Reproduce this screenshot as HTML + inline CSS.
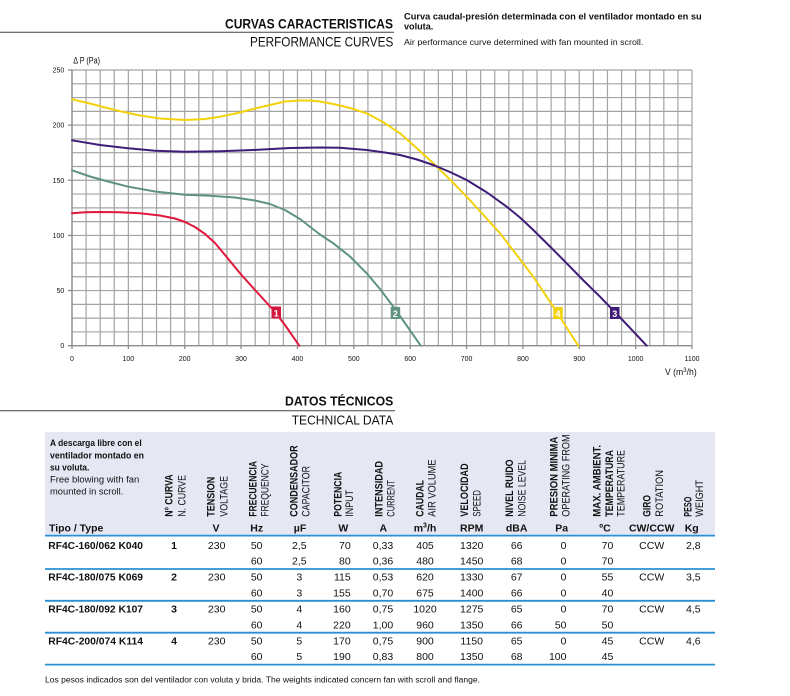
<!DOCTYPE html>
<html><head><meta charset="utf-8"><style>
html,body{margin:0;padding:0;background:#fff;}
svg{display:block;}
text{font-family:"Liberation Sans",Arial,sans-serif;fill:#111;}
.b{font-weight:bold;}
.tk{font-size:7px;fill:#333;}
.rh{font-size:11px;}
.d{font-size:10.5px;}
</style></head><body>
<svg width="790" height="696" viewBox="0 0 790 696" xmlns="http://www.w3.org/2000/svg">
<rect width="790" height="696" fill="#fff"/>
<!-- Header -->
<text x="225" y="28.3" class="b" font-size="14" textLength="168" lengthAdjust="spacingAndGlyphs">CURVAS CARACTERISTICAS</text>
<line x1="0" y1="32.3" x2="394" y2="32.3" stroke="#444" stroke-width="1"/>
<text x="250" y="46.7" font-size="14" textLength="143.3" lengthAdjust="spacingAndGlyphs">PERFORMANCE CURVES</text>
<text x="404" y="19.3" class="b" font-size="9" textLength="297.7" lengthAdjust="spacingAndGlyphs">Curva caudal-presión determinada con el ventilador montado en su</text>
<text x="404" y="29.5" class="b" font-size="9" textLength="29.3" lengthAdjust="spacingAndGlyphs">voluta.</text>
<text x="404" y="45" font-size="8.5" textLength="239.3" lengthAdjust="spacingAndGlyphs">Air performance curve determined with fan mounted in scroll.</text>

<!-- Chart grid -->
<path fill="none" stroke="#a3a3a3" stroke-width="1.2" d="
M72 70V345.7M86.09 70V345.7M100.18 70V345.7M114.27 70V345.7M128.36 70V345.7M142.45 70V345.7M156.55 70V345.7M170.64 70V345.7M184.73 70V345.7M198.82 70V345.7M212.91 70V345.7M227 70V345.7M241.09 70V345.7M255.18 70V345.7M269.27 70V345.7M283.36 70V345.7M297.45 70V345.7M311.55 70V345.7M325.64 70V345.7M339.73 70V345.7M353.82 70V345.7M367.91 70V345.7M382 70V345.7M396.09 70V345.7M410.18 70V345.7M424.27 70V345.7M438.36 70V345.7M452.45 70V345.7M466.55 70V345.7M480.64 70V345.7M494.73 70V345.7M508.82 70V345.7M522.91 70V345.7M537 70V345.7M551.09 70V345.7M565.18 70V345.7M579.27 70V345.7M593.36 70V345.7M607.45 70V345.7M621.55 70V345.7M635.64 70V345.7M649.73 70V345.7M663.82 70V345.7M677.91 70V345.7M692 70V345.7
M72 331.92H692M72 318.13H692M72 304.35H692M72 290.56H692M72 276.78H692M72 262.99H692M72 249.21H692M72 235.42H692M72 221.64H692M72 207.85H692M72 194.07H692M72 180.28H692M72 166.5H692M72 152.71H692M72 138.93H692M72 125.14H692M72 111.36H692M72 97.57H692M72 83.79H692M72 70H692"/>
<path fill="none" stroke="#8a8a8a" stroke-width="1.3" d="M72 70V345.7H692M68 70H72M68 125.14H72M68 180.28H72M68 235.42H72M68 290.56H72M68 345.7H72M72 345.7V349M128.36 345.7V349M184.73 345.7V349M241.09 345.7V349M297.45 345.7V349M353.82 345.7V349M410.18 345.7V349M466.55 345.7V349M522.91 345.7V349M579.27 345.7V349M635.64 345.7V349M692 345.7V349"/>
<!-- y tick labels -->
<g class="tk" text-anchor="end">
<text x="64.3" y="72.5">250</text>
<text x="64.3" y="127.6">200</text>
<text x="64.3" y="182.8">150</text>
<text x="64.3" y="237.9">100</text>
<text x="64.3" y="293">50</text>
<text x="64.3" y="348.2">0</text>
</g>
<g class="tk" text-anchor="middle">
<text x="72" y="361">0</text>
<text x="128.36" y="361">100</text>
<text x="184.73" y="361">200</text>
<text x="241.09" y="361">300</text>
<text x="297.45" y="361">400</text>
<text x="353.82" y="361">500</text>
<text x="410.18" y="361">600</text>
<text x="466.55" y="361">700</text>
<text x="522.91" y="361">800</text>
<text x="579.27" y="361">900</text>
<text x="635.64" y="361">1000</text>
<text x="692" y="361">1100</text>
</g>
<text x="73.3" y="63.5" font-size="9" textLength="26.7" lengthAdjust="spacingAndGlyphs">Δ P (Pa)</text>
<text x="665" y="375" font-size="9" textLength="31.7" lengthAdjust="spacingAndGlyphs">V (m<tspan font-size="6.5" dy="-3">3</tspan><tspan dy="3">/h)</tspan></text>

<!-- Curves -->
<g fill="none" stroke-width="2" stroke-linejoin="round" stroke-linecap="round">
<polyline stroke="#f3d20c" points="72,99.3 90,103.5 105,107.5 120,111.2 140,115.5 160,118.5 185,120 205,119 220,116.7 240,112.5 255,108.5 270,105 285,101.5 300,100.5 310,100.5 320,101.5 333.3,104 350,108 366.7,113.3 383,122 400,133.3 416,147.5 433.3,163.3 450,179.5 466.7,196.7 483,214.5 500,233.3 516,254 533.3,276.7 553.3,306.7 565,325 578.3,345.7"/>
<polyline stroke="#3f1d78" points="72,140.3 100,145 128.3,148.3 155,150.8 185,151.7 220,151.2 253.3,150 290,148 320,147.5 340,147.8 366.7,150 385,152.5 400,155 417,159.5 433.3,165 450,172 466.7,180 487,192.5 506.7,206.7 520,217.5 533.3,230 550,246.5 566.7,263.3 583,280 600,296.7 623,320.5 646.7,345.7"/>
<polyline stroke="#5e9384" points="72,170.3 90,176.5 110,182 128.3,186.7 155,191.5 185,194.7 210,195.7 235,197.5 255,200.5 270,204 285,210 300,219 320,234.5 333.3,243.3 350,256.5 366.7,273.3 380,289 393.3,306.7 407,326 420.7,345.7"/>
<polyline stroke="#e1183c" points="72,213.3 85,212.3 100,212 120,212.3 140,213.3 160,215.5 175,218.5 185,222 195,227 205,234 215,243 225,255 240,273.3 255,290 273.3,310 285,325 299.3,345.7"/>
</g>
<!-- curve labels -->
<rect x="271.5" y="306.5" width="9.5" height="12" fill="#d3173c"/>
<text x="276.2" y="316.3" class="b" font-size="9" text-anchor="middle" style="fill:#fff">1</text>
<rect x="390.7" y="307" width="9.5" height="12" fill="#5e9384"/>
<text x="395.4" y="316.8" class="b" font-size="9" text-anchor="middle" style="fill:#fff">2</text>
<rect x="553.3" y="307" width="9.5" height="12" fill="#f3d20c"/>
<text x="558" y="316.8" class="b" font-size="9" text-anchor="middle" style="fill:#fff">4</text>
<rect x="610" y="307" width="9.5" height="12" fill="#3f1d78"/>
<text x="614.7" y="316.8" class="b" font-size="9" text-anchor="middle" style="fill:#fff">3</text>

<!-- Datos técnicos header -->
<text x="285" y="405.7" class="b" font-size="13" textLength="108.3" lengthAdjust="spacingAndGlyphs">DATOS TÉCNICOS</text>
<line x1="0" y1="410.7" x2="395" y2="410.7" stroke="#444" stroke-width="1"/>
<text x="291.7" y="424.7" font-size="13" textLength="101.6" lengthAdjust="spacingAndGlyphs">TECHNICAL DATA</text>

<!-- Table header -->
<rect x="45" y="432" width="670" height="103" fill="#e5e8f3"/>
<text x="50" y="445.8" class="b" font-size="9" textLength="91.7" lengthAdjust="spacingAndGlyphs">A descarga libre con el</text>
<text x="50" y="458.3" class="b" font-size="9" textLength="94" lengthAdjust="spacingAndGlyphs">ventilador montado en</text>
<text x="50" y="470.6" class="b" font-size="9" textLength="39.3" lengthAdjust="spacingAndGlyphs">su voluta.</text>
<text x="50" y="482.4" font-size="9" textLength="89.3" lengthAdjust="spacingAndGlyphs">Free blowing with fan</text>
<text x="50" y="494.4" font-size="9" textLength="73.3" lengthAdjust="spacingAndGlyphs">mounted in scroll.</text>

<g class="rh">
<text transform="translate(172.7,516.7) rotate(-90)" class="b" textLength="42.3" lengthAdjust="spacingAndGlyphs">Nº CURVA</text>
<text transform="translate(185.3,516.7) rotate(-90)" textLength="41.7" lengthAdjust="spacingAndGlyphs">N. CURVE</text>
<text transform="translate(214.7,516.7) rotate(-90)" class="b" textLength="40" lengthAdjust="spacingAndGlyphs">TENSION</text>
<text transform="translate(227.7,516.7) rotate(-90)" textLength="40.7" lengthAdjust="spacingAndGlyphs">VOLTAGE</text>
<text transform="translate(256.3,516.7) rotate(-90)" class="b" textLength="55.7" lengthAdjust="spacingAndGlyphs">FRECUENCIA</text>
<text transform="translate(268.3,516.7) rotate(-90)" textLength="53.3" lengthAdjust="spacingAndGlyphs">FREQUENCY</text>
<text transform="translate(297.3,516.7) rotate(-90)" class="b" textLength="71.3" lengthAdjust="spacingAndGlyphs">CONDENSADOR</text>
<text transform="translate(309.7,516.7) rotate(-90)" textLength="50.7" lengthAdjust="spacingAndGlyphs">CAPACITOR</text>
<text transform="translate(341.3,516.7) rotate(-90)" class="b" textLength="45" lengthAdjust="spacingAndGlyphs">POTENCIA</text>
<text transform="translate(353,516.7) rotate(-90)" textLength="26.7" lengthAdjust="spacingAndGlyphs">INPUT</text>
<text transform="translate(382.3,516.7) rotate(-90)" class="b" textLength="55.7" lengthAdjust="spacingAndGlyphs">INTENSIDAD</text>
<text transform="translate(394.7,516.7) rotate(-90)" textLength="36.7" lengthAdjust="spacingAndGlyphs">CURRENT</text>
<text transform="translate(423.3,516.7) rotate(-90)" class="b" textLength="36.7" lengthAdjust="spacingAndGlyphs">CAUDAL</text>
<text transform="translate(435.7,516.7) rotate(-90)" textLength="57.3" lengthAdjust="spacingAndGlyphs">AIR VOLUME</text>
<text transform="translate(468,516.7) rotate(-90)" class="b" textLength="53.3" lengthAdjust="spacingAndGlyphs">VELOCIDAD</text>
<text transform="translate(480.7,516.7) rotate(-90)" textLength="26.7" lengthAdjust="spacingAndGlyphs">SPEED</text>
<text transform="translate(513,516.7) rotate(-90)" class="b" textLength="57.3" lengthAdjust="spacingAndGlyphs">NIVEL RUIDO</text>
<text transform="translate(525.7,516.7) rotate(-90)" textLength="56.7" lengthAdjust="spacingAndGlyphs">NOISE  LEVEL</text>
<text transform="translate(557.3,516.7) rotate(-90)" class="b" textLength="80" lengthAdjust="spacingAndGlyphs">PRESION MINIMA</text>
<text transform="translate(569.7,516.7) rotate(-90)" textLength="82.3" lengthAdjust="spacingAndGlyphs">OPERATING FROM</text>
<text transform="translate(600.7,516.7) rotate(-90)" class="b" textLength="71.7" lengthAdjust="spacingAndGlyphs">MAX. AMBIENT.</text>
<text transform="translate(613,516.7) rotate(-90)" class="b" textLength="66.7" lengthAdjust="spacingAndGlyphs">TEMPERATURA</text>
<text transform="translate(624.7,516.7) rotate(-90)" textLength="66.7" lengthAdjust="spacingAndGlyphs">TEMPERATURE</text>
<text transform="translate(650.7,516.7) rotate(-90)" class="b" textLength="21.7" lengthAdjust="spacingAndGlyphs">GIRO</text>
<text transform="translate(663,516.7) rotate(-90)" textLength="46.7" lengthAdjust="spacingAndGlyphs">ROTATION</text>
<text transform="translate(691.3,516.7) rotate(-90)" class="b" textLength="20" lengthAdjust="spacingAndGlyphs">PESO</text>
<text transform="translate(703,516.7) rotate(-90)" textLength="36.7" lengthAdjust="spacingAndGlyphs">WEIGHT</text>
</g>

<g class="b" font-size="10.5" text-anchor="middle">
<text x="49" y="531.7" text-anchor="start" textLength="54.3" lengthAdjust="spacingAndGlyphs">Tipo / Type</text>
<text x="216" y="531.7">V</text>
<text x="256.7" y="531.7">Hz</text>
<text x="300" y="531.7">µF</text>
<text x="343.3" y="531.7">W</text>
<text x="383.3" y="531.7">A</text>
<text x="425" y="531.7">m<tspan font-size="7" dy="-4">3</tspan><tspan dy="4">/h</tspan></text>
<text x="471.7" y="531.7">RPM</text>
<text x="516.7" y="531.7">dBA</text>
<text x="561.7" y="531.7">Pa</text>
<text x="605" y="531.7">ºC</text>
<text x="651.7" y="531.7">CW/CCW</text>
<text x="691.7" y="531.7">Kg</text>
</g>

<!-- Table lines -->
<g stroke="#2b8fd6" stroke-width="1.8">
<line x1="45" y1="535.6" x2="715" y2="535.6"/>
<line x1="45" y1="569" x2="715" y2="569"/>
<line x1="45" y1="600.8" x2="715" y2="600.8"/>
<line x1="45" y1="632.7" x2="715" y2="632.7"/>
<line x1="45" y1="664.6" x2="715" y2="664.6"/>
</g>

<!-- Table rows -->
<g class="d" text-anchor="middle">
<!-- group 1 -->
<text x="48.3" y="548.8" class="b" text-anchor="start" textLength="94.7" lengthAdjust="spacingAndGlyphs">RF4C-160/062 K040</text>
<text x="174" y="548.8" class="b">1</text>
<text x="216.7" y="548.8">230</text>
<text x="256.7" y="548.8">50</text><text x="256.7" y="564.5">60</text>
<text x="299.3" y="548.8">2,5</text><text x="299.3" y="564.5">2,5</text>
<text x="350.7" y="548.8" text-anchor="end">70</text><text x="350.7" y="564.5" text-anchor="end">80</text>
<text x="383" y="548.8">0,33</text><text x="383" y="564.5">0,36</text>
<text x="425" y="548.8">405</text><text x="425" y="564.5">480</text>
<text x="471.7" y="548.8">1320</text><text x="471.7" y="564.5">1450</text>
<text x="516.7" y="548.8">66</text><text x="516.7" y="564.5">68</text>
<text x="566.5" y="548.8" text-anchor="end">0</text><text x="566.5" y="564.5" text-anchor="end">0</text>
<text x="613.3" y="548.8" text-anchor="end">70</text><text x="613.3" y="564.5" text-anchor="end">70</text>
<text x="651.7" y="548.8">CCW</text>
<text x="693.3" y="548.8">2,8</text>
<!-- group 2 -->
<text x="48.3" y="580.7" class="b" text-anchor="start" textLength="94.7" lengthAdjust="spacingAndGlyphs">RF4C-180/075 K069</text>
<text x="174" y="580.7" class="b">2</text>
<text x="216.7" y="580.7">230</text>
<text x="256.7" y="580.7">50</text><text x="256.7" y="596.4">60</text>
<text x="299.3" y="580.7">3</text><text x="299.3" y="596.4">3</text>
<text x="350.7" y="580.7" text-anchor="end">115</text><text x="350.7" y="596.4" text-anchor="end">155</text>
<text x="383" y="580.7">0,53</text><text x="383" y="596.4">0,70</text>
<text x="425" y="580.7">620</text><text x="425" y="596.4">675</text>
<text x="471.7" y="580.7">1330</text><text x="471.7" y="596.4">1400</text>
<text x="516.7" y="580.7">67</text><text x="516.7" y="596.4">66</text>
<text x="566.5" y="580.7" text-anchor="end">0</text><text x="566.5" y="596.4" text-anchor="end">0</text>
<text x="613.3" y="580.7" text-anchor="end">55</text><text x="613.3" y="596.4" text-anchor="end">40</text>
<text x="651.7" y="580.7">CCW</text>
<text x="693.3" y="580.7">3,5</text>
<!-- group 3 -->
<text x="48.3" y="612.6" class="b" text-anchor="start" textLength="94.7" lengthAdjust="spacingAndGlyphs">RF4C-180/092 K107</text>
<text x="174" y="612.6" class="b">3</text>
<text x="216.7" y="612.6">230</text>
<text x="256.7" y="612.6">50</text><text x="256.7" y="628.3">60</text>
<text x="299.3" y="612.6">4</text><text x="299.3" y="628.3">4</text>
<text x="350.7" y="612.6" text-anchor="end">160</text><text x="350.7" y="628.3" text-anchor="end">220</text>
<text x="383" y="612.6">0,75</text><text x="383" y="628.3">1,00</text>
<text x="425" y="612.6">1020</text><text x="425" y="628.3">960</text>
<text x="471.7" y="612.6">1275</text><text x="471.7" y="628.3">1350</text>
<text x="516.7" y="612.6">65</text><text x="516.7" y="628.3">66</text>
<text x="566.5" y="612.6" text-anchor="end">0</text><text x="566.5" y="628.3" text-anchor="end">50</text>
<text x="613.3" y="612.6" text-anchor="end">70</text><text x="613.3" y="628.3" text-anchor="end">50</text>
<text x="651.7" y="612.6">CCW</text>
<text x="693.3" y="612.6">4,5</text>
<!-- group 4 -->
<text x="48.3" y="644.5" class="b" text-anchor="start" textLength="94.7" lengthAdjust="spacingAndGlyphs">RF4C-200/074 K114</text>
<text x="174" y="644.5" class="b">4</text>
<text x="216.7" y="644.5">230</text>
<text x="256.7" y="644.5">50</text><text x="256.7" y="660.2">60</text>
<text x="299.3" y="644.5">5</text><text x="299.3" y="660.2">5</text>
<text x="350.7" y="644.5" text-anchor="end">170</text><text x="350.7" y="660.2" text-anchor="end">190</text>
<text x="383" y="644.5">0,75</text><text x="383" y="660.2">0,83</text>
<text x="425" y="644.5">900</text><text x="425" y="660.2">800</text>
<text x="471.7" y="644.5">1150</text><text x="471.7" y="660.2">1350</text>
<text x="516.7" y="644.5">65</text><text x="516.7" y="660.2">68</text>
<text x="566.5" y="644.5" text-anchor="end">0</text><text x="566.5" y="660.2" text-anchor="end">100</text>
<text x="613.3" y="644.5" text-anchor="end">45</text><text x="613.3" y="660.2" text-anchor="end">45</text>
<text x="651.7" y="644.5">CCW</text>
<text x="693.3" y="644.5">4,6</text>
</g>

<text x="45" y="682.3" font-size="8" textLength="435" lengthAdjust="spacingAndGlyphs">Los pesos indicados son del ventilador con voluta y brida. The weights indicated concern fan with scroll and flange.</text>
</svg>
</body></html>
